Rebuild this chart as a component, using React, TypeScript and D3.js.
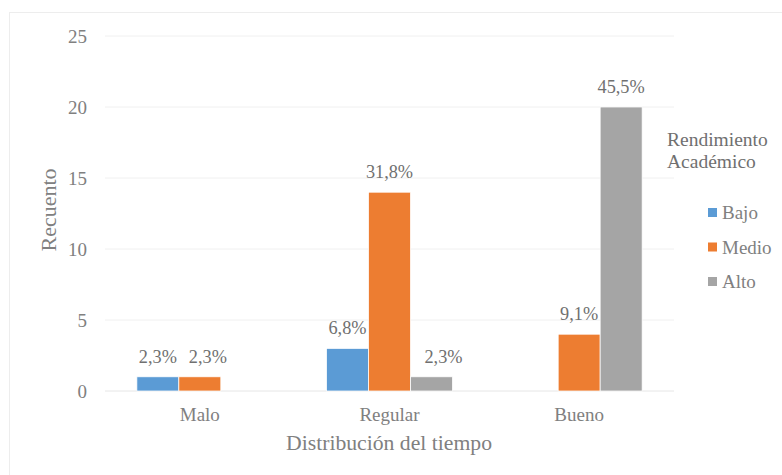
import React from "react";
import * as d3 from "d3";

const categories = ["Malo", "Regular", "Bueno"];
const seriesNames = ["Bajo", "Medio", "Alto"];
const bajo = [1, 3, 0];
const medio = [1, 14, 4];
const alto = [0, 1, 20];
const labelsBajo = ["2,3%", "6,8%", ""];
const labelsMedio = ["2,3%", "31,8%", "9,1%"];
const labelsAlto = ["", "2,3%", "45,5%"];
const yTicks = [0, 5, 10, 15, 20, 25];
const colors = ["#5B9BD5", "#ED7D31", "#A5A5A5"];

// style: horizontal nudges of data labels (series x category), in px
const LABEL_NUDGE: Record<string, number> = { "Medio-Malo": 8, "Alto-Regular": 12 };

const W = 782;
const H = 475;
const M = { left: 105, right: 674, top: 36, bottom: 391 };
const FONT = "Liberation Serif, Times New Roman, serif";

export default function App() {
  const values = [bajo, medio, alto];
  const labels = [labelsBajo, labelsMedio, labelsAlto];
  const x0 = d3
    .scaleBand<string>()
    .domain(categories)
    .range([M.left, M.right])
    .paddingInner(0.336)
    .paddingOuter(0.168);
  const x1 = d3
    .scaleBand<string>()
    .domain(seriesNames)
    .range([0, x0.bandwidth()])
    .padding(0);
  const y = d3.scaleLinear().domain([0, 25]).range([M.bottom, M.top]);

  return (
    <svg
      width={W}
      height={H}
      fontFamily={FONT}
      style={{ position: "absolute", left: 0, top: 0 }}
    >
      <rect x={0} y={0} width={W} height={H} fill="#fff" />
      <rect
        x={9.5}
        y={12.5}
        width={W}
        height={H}
        fill="none"
        stroke="#EDEDED"
        strokeWidth={1}
      />
      {yTicks.map((t) => (
        <g key={t}>
          <line
            x1={M.left}
            x2={M.right}
            y1={y(t)}
            y2={y(t)}
            stroke={t === 0 ? "#E6E6E6" : "#F0F0F0"}
            strokeWidth={1}
          />
          <text
            x={87}
            y={y(t)}
            dy="0.35em"
            textAnchor="end"
            fontSize={19}
            fontFamily={FONT}
            fill="#808080"
          >
            {t}
          </text>
        </g>
      ))}
      {categories.map((c, ci) => (
        <g key={c}>
          {seriesNames.map((s, si) => {
            const v = values[si][ci];
            if (!v) return null;
            const bx = (x0(c) ?? 0) + (x1(s) ?? 0);
            const bw = x1.bandwidth();
            const nudge = LABEL_NUDGE[`${s}-${c}`] ?? 0;
            return (
              <g key={s}>
                <rect
                  x={bx}
                  y={y(v)}
                  width={bw}
                  height={y(0) - y(v)}
                  fill={colors[si]}
                  stroke="#fff"
                  strokeWidth={0.75}
                />
                <text
                  x={bx + bw / 2 + nudge}
                  y={y(v) - 14}
                  textAnchor="middle"
                  fontSize={18.3}
                  fontFamily={FONT}
                  fill="#707070"
                >
                  {labels[si][ci]}
                </text>
              </g>
            );
          })}
          <text
            x={(x0(c) ?? 0) + x0.bandwidth() / 2}
            y={421}
            textAnchor="middle"
            fontSize={19}
            fontFamily={FONT}
            fill="#808080"
          >
            {c}
          </text>
        </g>
      ))}
      <text
        x={389}
        y={450}
        textAnchor="middle"
        fontSize={21.7}
        fontFamily={FONT}
        fill="#808080"
      >
        Distribución del tiempo
      </text>
      <text
        transform={`translate(56, 210) rotate(-90)`}
        textAnchor="middle"
        fontSize={22}
        fontFamily={FONT}
        fill="#808080"
      >
        Recuento
      </text>
      <text x={667} y={146} fontSize={19.5} fontFamily={FONT} fill="#707070">
        Rendimiento
      </text>
      <text x={667} y={168} fontSize={19.5} fontFamily={FONT} fill="#707070">
        Académico
      </text>
      {seriesNames.map((s, i) => (
        <g key={s}>
          <rect x={708} y={208 + i * 34.5} width={9} height={9} fill={colors[i]} />
          <text x={722} y={219 + i * 34.5} fontSize={19} fontFamily={FONT} fill="#808080">
            {s}
          </text>
        </g>
      ))}
    </svg>
  );
}
